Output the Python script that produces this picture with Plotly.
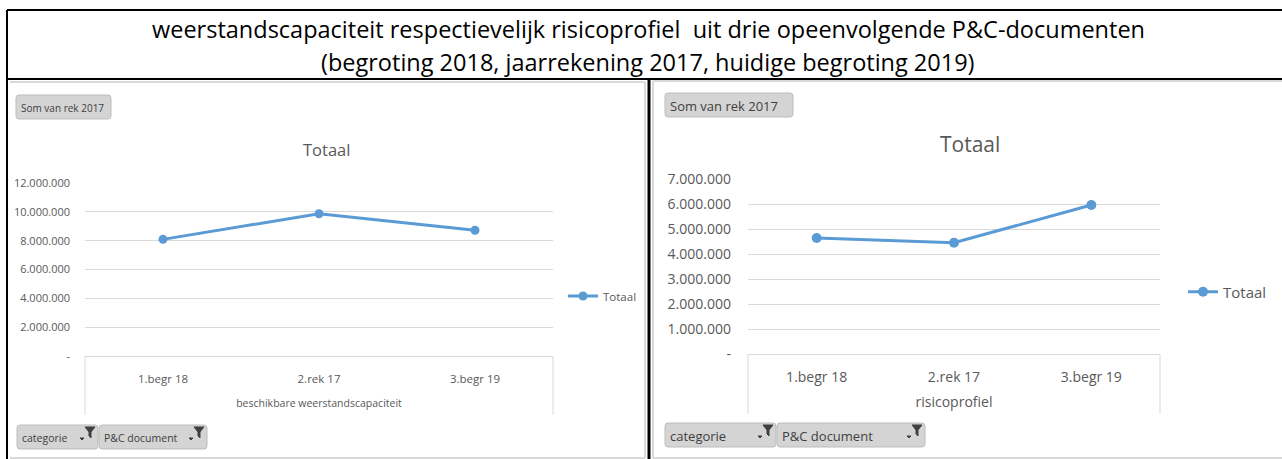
import plotly.graph_objects as go

# data
categories = ['1.begr 18', '2.rek 17', '3.begr 19']
capaciteit = [8090000, 9870000, 8720000]   # beschikbare weerstandscapaciteit
risico = [4640000, 4450000, 5960000]       # risicoprofiel

left_ticks = [0, 2000000, 4000000, 6000000, 8000000, 10000000, 12000000]
left_ticktext = ['-', '2.000.000', '4.000.000', '6.000.000', '8.000.000', '10.000.000', '12.000.000']
right_ticks = [0, 1000000, 2000000, 3000000, 4000000, 5000000, 6000000, 7000000]
right_ticktext = ['-', '1.000.000', '2.000.000', '3.000.000', '4.000.000', '5.000.000', '6.000.000', '7.000.000']

W, H = 1282, 459
BLUE = '#5B9BD5'
GREY_TXT = '#595959'
GRID = '#D9D9D9'
FONT = 'Open Sans'


def px(x):
    return x / W


def py(y):
    return 1 - y / H


fig = go.Figure()

fig.add_trace(go.Scatter(
    x=categories, y=capaciteit, name='Totaal', mode='lines+markers', showlegend=True,
    line=dict(color=BLUE, width=3), marker=dict(size=9, color=BLUE),
    xaxis='x', yaxis='y', legend='legend'))
fig.add_trace(go.Scatter(
    x=categories, y=risico, name='Totaal', mode='lines+markers', showlegend=True,
    line=dict(color=BLUE, width=3), marker=dict(size=10, color=BLUE),
    xaxis='x2', yaxis='y2', legend='legend2'))

shapes = []
annotations = []


def line(x0, y0, x1, y1, color='black', width=2):
    shapes.append(dict(type='line', xref='paper', yref='paper',
                       x0=px(x0), y0=py(y0), x1=px(x1), y1=py(y1),
                       line=dict(color=color, width=width)))


def label(x, y, text, size, color=GREY_TXT, xanchor='center'):
    annotations.append(dict(xref='paper', yref='paper', x=px(x), y=py(y),
                            xanchor=xanchor, yanchor='middle', showarrow=False,
                            text=text, font=dict(family=FONT, size=size, color=color)))


def button(x0, y0, x1, y1, text, size, funnel=False):
    r = 3
    path = ('M {a} {t} L {b} {t} Q {c} {t} {c} {u} L {c} {v} Q {c} {w} {b} {w} '
            'L {a} {w} Q {d} {w} {d} {v} L {d} {u} Q {d} {t} {a} {t} Z').format(
        a=px(x0 + r), b=px(x1 - r), c=px(x1), d=px(x0),
        t=py(y0), u=py(y0 + r), v=py(y1 - r), w=py(y1))
    shapes.append(dict(type='path', xref='paper', yref='paper', path=path,
                       fillcolor='#D4D4D4', line=dict(color='#BDBDBD', width=1)))
    label(x0 + 3, (y0 + y1) / 2 + 1, text, size, '#404040', 'left')
    if funnel:
        fx = x1 - 8
        shapes.append(dict(type='path', xref='paper', yref='paper',
                           path='M %f %f L %f %f L %f %f L %f %f L %f %f L %f %f Z' % (
                               px(fx - 5), py(y0 + 2), px(fx + 5), py(y0 + 2),
                               px(fx + 1), py(y0 + 7), px(fx + 1), py(y0 + 13),
                               px(fx - 1), py(y0 + 11), px(fx - 1), py(y0 + 7)),
                           fillcolor='#404040', line=dict(color='#404040', width=1)))
        shapes.append(dict(type='path', xref='paper', yref='paper',
                           path='M %f %f L %f %f L %f %f Z' % (
                               px(fx - 10), py(y0 + 13), px(fx - 6), py(y0 + 13),
                               px(fx - 8), py(y0 + 15)),
                           fillcolor='#404040', line=dict(color='#404040', width=1)))


# chart area frames
line(10, 82, 645, 82, '#D9D9D9', 2)
line(645, 82, 645, 458, '#D9D9D9', 2)
line(10, 458, 645, 458, '#D9D9D9', 2)
line(653, 81, 1282, 81, '#D9D9D9', 2)
line(653, 81, 653, 458, '#D9D9D9', 2)
line(653, 458, 1282, 458, '#D9D9D9', 2)

# table borders
line(7, 10, 1282, 10)
line(7, 10, 7, 459)
line(7, 79, 1282, 79)
line(649, 79, 649, 459, 'black', 3)

# category boxes under the axes
for x in (85, 553):
    line(x, 356, x, 415, GRID, 1)
for x in (748, 1160):
    line(x, 354, x, 414, GRID, 1)

# pivot buttons
button(16, 95, 111, 119, 'Som van rek 2017', 10)
button(17, 425, 98, 449, 'categorie', 10.5, funnel=True)
button(99, 425, 207, 449, 'P&C document', 10.5, funnel=True)
button(665, 93, 793, 117, 'Som van rek 2017', 13)
button(665, 423, 776, 447, 'categorie', 13, funnel=True)
button(777, 423, 925, 447, 'P&C document', 13, funnel=True)

# heading
label(648, 29, 'weerstandscapaciteit respectievelijk risicoprofiel  uit drie opeenvolgende P&C-documenten',
      23.5, 'black')
label(648, 62, '(begroting 2018, jaarrekening 2017, huidige begroting 2019)', 23.5, 'black')

# chart titles
label(326, 150, 'Totaal', 16.5)
label(970, 144, 'Totaal', 21)

fig.update_layout(
    width=W, height=H,
    margin=dict(l=0, r=0, t=0, b=0, autoexpand=False),
    paper_bgcolor='white', plot_bgcolor='white',
    font=dict(family=FONT, color=GREY_TXT),
    shapes=shapes, annotations=annotations,
    showlegend=True,
    xaxis=dict(domain=[px(85), px(553)], anchor='y', type='category', range=[-0.5, 2.5],
               automargin=False, showgrid=False, showline=True, linecolor=GRID, linewidth=1,
               ticks='', tickfont=dict(size=11.5), ticklabelstandoff=12,
               title=dict(text='beschikbare weerstandscapaciteit', font=dict(size=10.5), standoff=14)),
    yaxis=dict(domain=[py(356), py(183)], anchor='x', range=[0, 12000000], automargin=False,
               tickvals=left_ticks, ticktext=left_ticktext, showgrid=True, gridcolor=GRID,
               gridwidth=1, zeroline=False, showline=False, ticks='',
               tickfont=dict(size=11), ticklabelstandoff=14),
    xaxis2=dict(domain=[px(748), px(1160)], anchor='y2', type='category', range=[-0.5, 2.5],
                automargin=False, showgrid=False, showline=True, linecolor=GRID, linewidth=1,
                ticks='', tickfont=dict(size=14), ticklabelstandoff=10,
                title=dict(text='risicoprofiel', font=dict(size=14), standoff=12)),
    yaxis2=dict(domain=[py(354), py(179)], anchor='x2', range=[0, 7000000], automargin=False,
                tickvals=right_ticks, ticktext=right_ticktext, showgrid=True, gridcolor=GRID,
                gridwidth=1, zeroline=False, showline=False, ticks='',
                tickfont=dict(size=14), ticklabelstandoff=16),
    legend=dict(x=px(563), y=py(296), xanchor='left', yanchor='middle',
                font=dict(size=11.5, color=GREY_TXT), itemwidth=30, bgcolor='rgba(0,0,0,0)'),
    legend2=dict(x=px(1183), y=py(292), xanchor='left', yanchor='middle',
                 font=dict(size=15, color=GREY_TXT), itemwidth=30, bgcolor='rgba(0,0,0,0)'),
)

fig.write_html("out.html", config={'displayModeBar': False},
               post_script="document.body.style.margin='0';")
